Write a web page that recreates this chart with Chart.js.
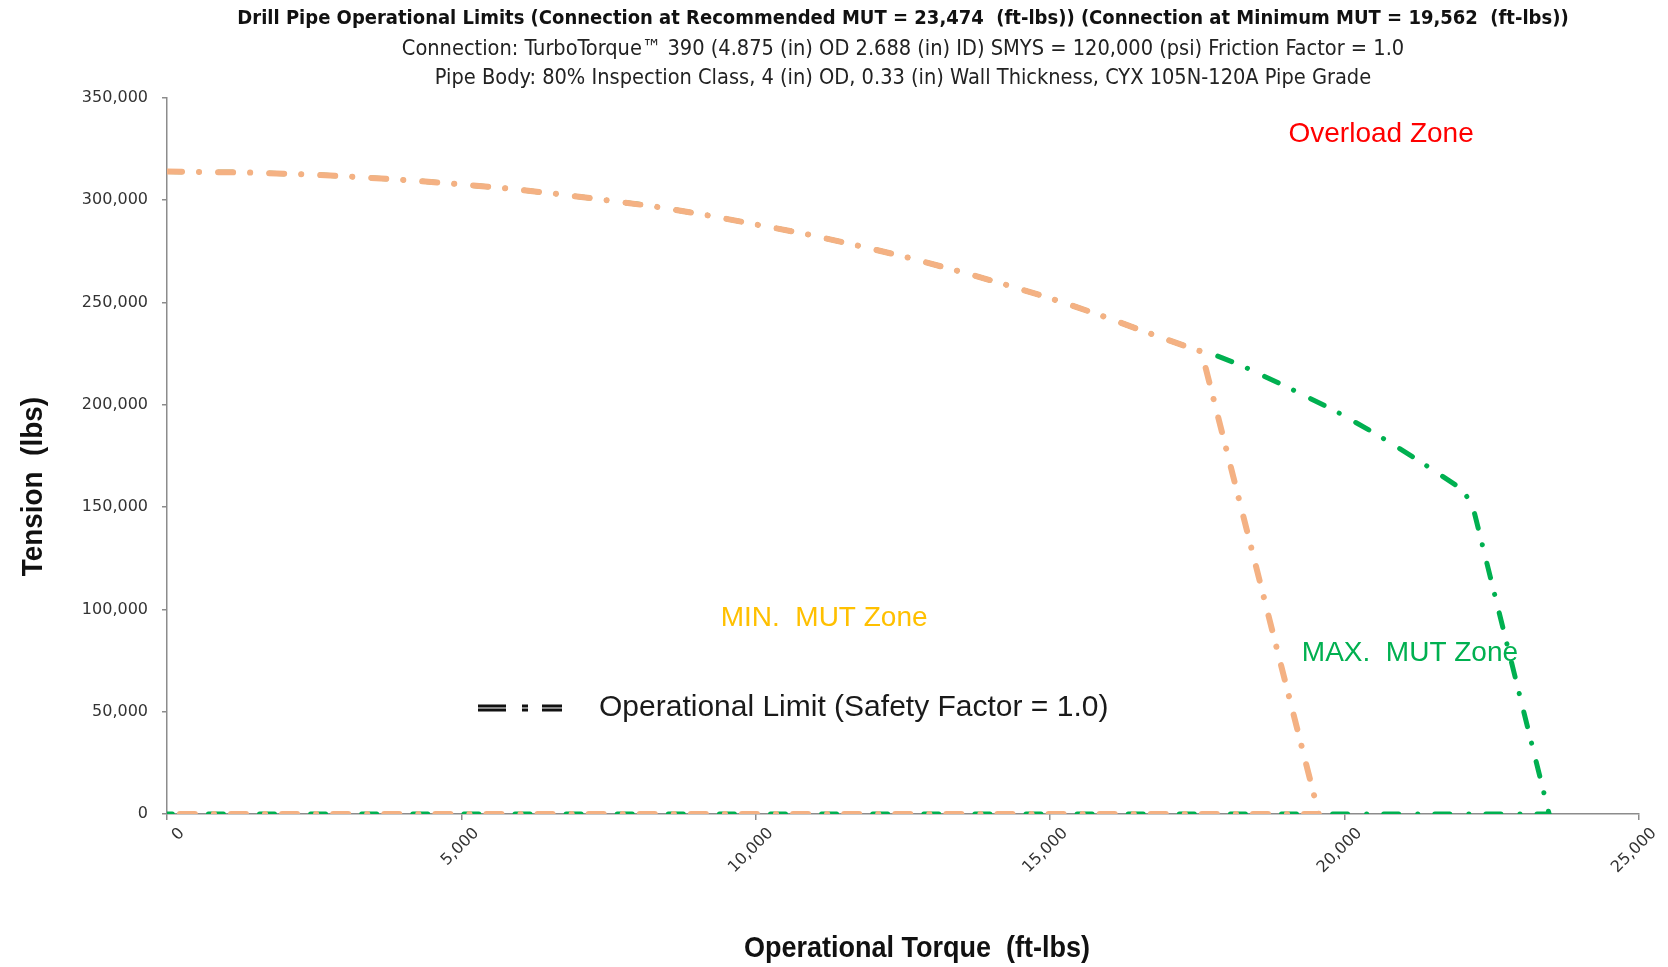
<!DOCTYPE html>
<html>
<head>
<meta charset="utf-8">
<title>Drill Pipe Operational Limits</title>
<script src="https://cdn.jsdelivr.net/npm/chart.js@4.4.1/dist/chart.umd.min.js"></script>
<style>
  body { margin: 0; background: #fff; }
  #wrap { width: 1668px; height: 967px; }
</style>
</head>
<body>
<div id="wrap"><canvas id="myChart"></canvas></div>
<script>
// pipe body curve, shared by both limits
const bodyTorque  = [0, 1410, 2290, 3140, 4010, 4860, 5720, 6580, 7440, 8290, 9145, 9990, 10850, 11690, 12525, 13360, 14190, 15020, 15840, 16650, 17460];
const bodyTension = [314000, 313500, 312700, 311500, 309900, 308100, 305900, 303200, 300100, 296900, 292800, 288200, 283500, 278100, 272400, 266000, 259200, 251900, 243900, 235300, 227000];

// connection at minimum MUT = 19,562
const minTorque  = [17570, 19562, 0];
const minTension = [226000, 0, 0];

// connection at recommended MUT = 23,474
const maxTorque  = [17740, 18250, 19030, 19810, 20560, 21290, 22010, 22180, 23474, 0];
const maxTension = [225000, 219200, 208600, 197500, 185300, 172200, 158400, 150000, 0, 0];

const torqueTicks  = [0, 5000, 10000, 15000, 20000, 25000];
const tensionTicks = [0, 50000, 100000, 150000, 200000, 250000, 300000, 350000];

const titleText = 'Drill Pipe Operational Limits (Connection at Recommended MUT = 23,474  (ft-lbs)) (Connection at Minimum MUT = 19,562  (ft-lbs))';
const subtitleText = [
  'Connection: TurboTorque\u2122 390 (4.875 (in) OD 2.688 (in) ID) SMYS = 120,000 (psi) Friction Factor = 1.0',
  'Pipe Body: 80% Inspection Class, 4 (in) OD, 0.33 (in) Wall Thickness, CYX 105N-120A Pipe Grade'
];

const zoneLabels = [
  { text: 'Overload Zone', torque: 20620, tension: 332400, color: '#ff0000' },
  { text: 'MIN.  MUT Zone', torque: 11160, tension: 95800, color: '#ffc000' },
  { text: 'MAX.  MUT Zone', torque: 21110, tension: 78700, color: '#00b050' }
];
const legendText = 'Operational Limit (Safety Factor = 1.0)';

const toPoints = (xs, ys) => xs.map((x, i) => ({ x: x, y: ys[i] }));
const orangePts = toPoints(bodyTorque.concat(minTorque), bodyTension.concat(minTension));
const greenPts  = toPoints(bodyTorque.concat(maxTorque), bodyTension.concat(maxTension));

const fmt = v => v.toLocaleString('en-US');
const narrow = '"Liberation Sans Narrow", "DejaVu Sans Condensed", sans-serif';
const arial = '"Liberation Sans", Arial, sans-serif';
const limitDash = [15, 17, 0.1, 19];

// zone texts go under the lines, legend + axis titles on top
const extras = {
  id: 'extras',
  beforeDatasetsDraw(chart) {
    const { ctx, scales: { x, y } } = chart;
    ctx.save();
    ctx.font = '28px ' + arial;
    ctx.textAlign = 'center';
    ctx.textBaseline = 'middle';
    zoneLabels.forEach(z => {
      ctx.fillStyle = z.color;
      ctx.fillText(z.text, x.getPixelForValue(z.torque), y.getPixelForValue(z.tension));
    });
    ctx.restore();
  },
  afterDraw(chart) {
    const { ctx, chartArea, scales: { x, y } } = chart;
    ctx.save();
    // legend sample
    const ly = y.getPixelForValue(51800);
    const lx = x.getPixelForValue(5282);
    ctx.strokeStyle = '#111';
    ctx.lineWidth = 7;
    ctx.setLineDash([28, 16, 6, 14, 20, 100]);
    ctx.beginPath(); ctx.moveTo(lx, ly); ctx.lineTo(lx + 84, ly); ctx.stroke();
    ctx.strokeStyle = '#fff';
    ctx.lineWidth = 1.2;
    ctx.beginPath(); ctx.moveTo(lx, ly); ctx.lineTo(lx + 84, ly); ctx.stroke();
    ctx.setLineDash([]);
    ctx.fillStyle = '#1a1a1a';
    ctx.font = '30px ' + arial;
    ctx.textAlign = 'left';
    ctx.textBaseline = 'middle';
    ctx.fillText(legendText, x.getPixelForValue(7337), ly);

    // axis titles, bold and a bit squeezed
    ctx.fillStyle = '#111';
    ctx.font = 'bold 30px ' + arial;
    ctx.textAlign = 'center';
    ctx.save();
    ctx.translate(917, chartArea.bottom + 135);
    ctx.scale(0.9, 1);
    ctx.fillText('Operational Torque  (ft-lbs)', 0, 0);
    ctx.restore();
    ctx.translate(34, y.getPixelForValue(160000));
    ctx.rotate(-Math.PI / 2);
    ctx.scale(0.93, 1);
    ctx.fillText('Tension  (lbs)', 0, 0);
    ctx.restore();
  }
};

const ctx = document.getElementById('myChart');
new Chart(ctx, {
  type: 'scatter',
  data: {
    datasets: [
      {
        label: 'Minimum MUT',
        data: orangePts,
        showLine: true,
        borderColor: '#f4b183',
        borderWidth: 6,
        borderDash: limitDash,
        borderCapStyle: 'round',
        pointRadius: 0,
        clip: 0
      },
      {
        label: 'Recommended MUT',
        data: greenPts,
        showLine: true,
        borderColor: '#00b050',
        borderWidth: 5,
        borderDash: limitDash,
        borderCapStyle: 'round',
        pointRadius: 0,
        clip: 0
      }
    ]
  },
  options: {
    responsive: true,
    maintainAspectRatio: false,
    animation: false,
    layout: { padding: { left: 0, right: 29, top: 0, bottom: 0 } },
    plugins: {
      legend: { display: false },
      tooltip: { enabled: false },
      title: {
        display: true,
        fullSize: false,
        text: titleText,
        color: '#111',
        font: { family: narrow, size: 20, weight: 'bold', lineHeight: 1.3 },
        padding: { top: 6, bottom: 2 }
      },
      subtitle: {
        display: true,
        fullSize: false,
        text: subtitleText,
        color: '#222',
        font: { family: narrow, size: 21.6, weight: 'normal', lineHeight: 1.34 },
        padding: { top: 1, bottom: 5 }
      }
    },
    scales: {
      x: {
        type: 'linear',
        min: 0,
        max: 25000,
        afterBuildTicks: s => { s.ticks = torqueTicks.map(v => ({ value: v })); },
        afterFit: s => { s.height = 153; },
        ticks: {
          autoSkip: false,
          minRotation: 45,
          maxRotation: 45,
          labelOffset: 15,
          padding: 4,
          color: '#333',
          font: { family: '"DejaVu Sans", sans-serif', size: 16 },
          callback: v => fmt(v)
        },
        grid: { drawOnChartArea: false, drawTicks: true, tickLength: 6, color: '#8c8c8c', lineWidth: 1.5 },
        border: { color: '#8c8c8c', width: 1.5 }
      },
      y: {
        type: 'linear',
        min: 0,
        max: 350000,
        afterBuildTicks: s => { s.ticks = tensionTicks.map(v => ({ value: v })); },
        afterFit: s => { s.width = 167; },
        ticks: {
          padding: 14,
          color: '#333',
          font: { family: '"DejaVu Sans", sans-serif', size: 16 },
          callback: v => fmt(v)
        },
        grid: { drawOnChartArea: false, drawTicks: true, tickLength: 5, color: '#8c8c8c', lineWidth: 1.5 },
        border: { color: '#8c8c8c', width: 1.5 }
      }
    }
  },
  plugins: [extras]
});
</script>
</body>
</html>
